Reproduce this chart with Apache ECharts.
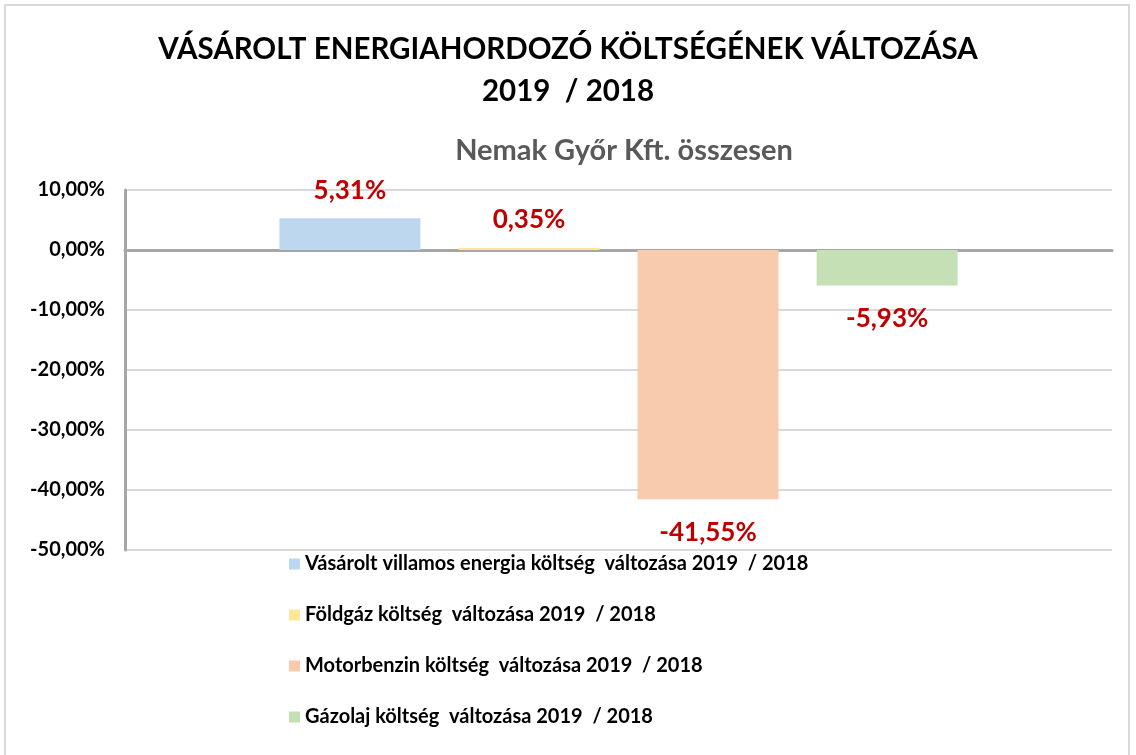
<!DOCTYPE html>
<html>
<head>
<meta charset="utf-8">
<script src="https://cdn.jsdelivr.net/npm/echarts@6/dist/echarts.min.js"></script>
<style>
    html, body { margin: 0; padding: 0; background: #fff; }
    #chart { position: absolute; left: 0; top: 0; width: 1136px; height: 755px; }
    #frame { position: absolute; left: 4px; top: 4px; width: 1126px; height: 760px; border: 2px solid #d9d9d9; box-sizing: border-box; pointer-events: none; }
</style>
</head>
<body>
<div id="chart"></div>
<div id="frame"></div>
<script>
// data
const seriesNames = [
    'Vásárolt villamos energia költség  változása 2019  / 2018',
    'Földgáz költség  változása 2019  / 2018',
    'Motorbenzin költség  változása 2019  / 2018',
    'Gázolaj költség  változása 2019  / 2018'
]
const seriesValues = [5.31, 0.35, -41.55, -5.93]
const seriesColors = ['#BDD7EE', '#FFE699', '#F8CBAD', '#C5E0B4']
const categories = ['Nemak Győr Kft. összesen']

const fontFamily = 'Lato, "Open Sans", sans-serif'

const fmt = (v, d) => v.toFixed(d).replace('.', ',') + '%'

const myChart = echarts.init(document.getElementById('chart'))

const series = seriesNames.map((name, i) => ({
    name: name,
    type: 'bar',
    barWidth: 141,
    barGap: '27%',
    itemStyle: { color: seriesColors[i] },
    label: {
        show: true,
        position: seriesValues[i] >= 0 ? 'top' : 'bottom',
        distance: seriesValues[i] >= 0 ? 15 : 20,
        color: '#C00000',
        fontWeight: 'bold',
        fontSize: 26,
        fontFamily: fontFamily,
        formatter: (p) => fmt(p.value, 2)
    },
    data: [seriesValues[i]]
}))

const option = {
    animation: false,
    title: [
        {
            text: 'VÁSÁROLT ENERGIAHORDOZÓ KÖLTSÉGÉNEK VÁLTOZÁSA\n2019  / 2018',
            left: 'center',
            top: 23,
            textStyle: {
                fontFamily: fontFamily,
                fontWeight: 'bold',
                fontSize: 29.5,
                lineHeight: 42,
                color: '#000'
            }
        },
        {
            text: 'Nemak Győr Kft. összesen',
            left: 619,
            textAlign: 'center',
            top: 131,
            textStyle: {
                fontFamily: fontFamily,
                fontWeight: 'bold',
                fontSize: 29,
                color: '#595959'
            }
        }
    ],
    legend: {
        orient: 'vertical',
        left: 284,
        top: 549,
        itemWidth: 11,
        itemHeight: 11,
        itemGap: 31,
        icon: 'rect',
        data: seriesNames,
        textStyle: {
            fontFamily: fontFamily,
            fontWeight: 'bold',
            fontSize: 20,
            color: '#000'
        }
    },
    grid: {
        left: 125,
        right: 24,
        top: 190,
        bottom: 205,
        containLabel: false
    },
    xAxis: {
        type: 'category',
        data: categories,
        axisLine: { show: true, onZero: true, lineStyle: { color: '#A6A6A6', width: 3 } },
        axisTick: { show: false },
        axisLabel: { show: false }
    },
    yAxis: {
        type: 'value',
        min: -50,
        max: 10,
        interval: 10,
        axisLine: { show: true, lineStyle: { color: '#A6A6A6', width: 3 } },
        axisTick: { show: false },
        splitLine: { lineStyle: { color: '#D9D9D9', width: 2 } },
        axisLabel: {
            margin: 20,
            color: '#000',
            fontFamily: fontFamily,
            fontWeight: 'bold',
            fontSize: 20,
            formatter: (v) => fmt(v, 2)
        }
    },
    series: series
}

myChart.setOption(option)
</script>
</body>
</html>
